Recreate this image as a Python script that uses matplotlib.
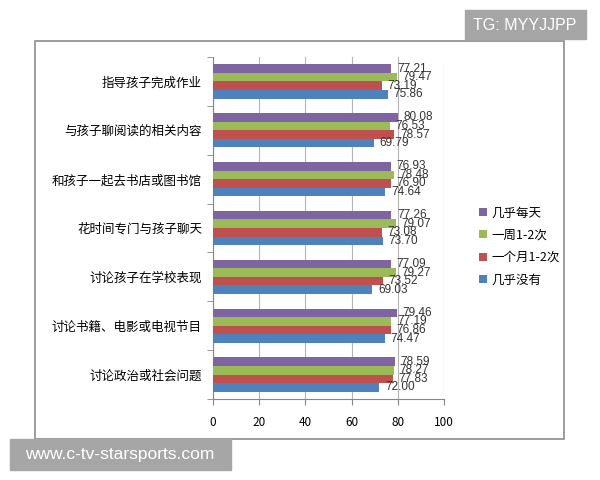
import numpy as np
import matplotlib.pyplot as plt
from matplotlib.patches import Rectangle

plt.rcParams['font.family'] = ['Noto Sans CJK SC', 'DejaVu Sans']

categories = ['指导孩子完成作业', '与孩子聊阅读的相关内容', '和孩子一起去书店或图书馆',
              '花时间专门与孩子聊天', '讨论孩子在学校表现', '讨论书籍、电影或电视节目',
              '讨论政治或社会问题']
series_names = ['几乎每天', '一周1-2次', '一个月1-2次', '几乎没有']
daily = [77.21, 80.08, 76.93, 77.26, 77.09, 79.46, 78.59]
weekly = [79.47, 76.53, 78.48, 79.07, 79.27, 77.19, 78.27]
monthly = [73.19, 78.57, 76.90, 73.08, 73.52, 76.86, 77.83]
never = [75.86, 69.79, 74.64, 73.70, 69.03, 74.47, 72.00]
colors = ['#7f64a2', '#9bbb59', '#c0504d', '#4f81bd']
xticks = [0, 20, 40, 60, 80, 100]

fig = plt.figure(figsize=(6, 4.8), dpi=100)

# outer frame
fig.patches.append(Rectangle((35/600, 1-439/480), 529/600, 398/480, transform=fig.transFigure,
                             fill=False, edgecolor='#8c8c8c', lw=1.2))

ax = fig.add_axes([213/600, 1-399/480, 231/600, 342/480])

y = np.arange(len(categories))
h = 0.175
handles = []
for k, vals in enumerate([daily, weekly, monthly, never]):
    bars = ax.barh(y + (k - 1.5) * h, vals, height=h, color=colors[k], label=series_names[k], zorder=3)
    ax.bar_label(bars, fmt='%.2f', padding=4, fontsize=8.5, color='#333333', family='Liberation Sans')
    handles.append(bars)

ax.set_xlim(0, 100)
ax.set_ylim(len(categories) - 0.5, -0.5)
ax.set_xticks(xticks)
ax.set_yticks(y)
ax.set_yticklabels(categories, fontsize=9)
ax.set_yticks(np.arange(-0.5, len(categories)), minor=True)
ax.tick_params(axis='y', which='major', length=0, pad=8)
ax.tick_params(axis='y', which='minor', length=4, color='#868686', direction='out')
ax.tick_params(axis='x', length=4, color='#868686', pad=8, labelsize=8.5)
ax.grid(axis='x', color='#b5b5b5', lw=0.8, zorder=0)
for s in ['top', 'right']:
    ax.spines[s].set_visible(False)
for s in ['left', 'bottom']:
    ax.spines[s].set_color('#868686')

fig.legend(handles=handles, loc='upper left', bbox_to_anchor=(468/600, 1-195/480),
           frameon=False, fontsize=9, handlelength=0.6, handleheight=0.6,
           handletextpad=0.4, labelspacing=0.75)

# watermarks
fig.patches.append(Rectangle((465/600, 1-39/480), 121/600, 29/480, transform=fig.transFigure,
                             color='#a6a6a6'))
fig.text(525/600, 1-25/480, 'TG: MYYJJPP', color='white', fontsize=11.5,
         family='Liberation Sans', ha='center', va='center')
fig.patches.append(Rectangle((10/600, 1-470/480), 221/600, 31/480, transform=fig.transFigure,
                             color='#a6a6a6', zorder=5))
fig.text(120/600, 1-454/480, 'www.c-tv-starsports.com', color='white', fontsize=12.5,
         family='Liberation Sans', ha='center', va='center', zorder=6)

fig.savefig('out.png', dpi=100)
